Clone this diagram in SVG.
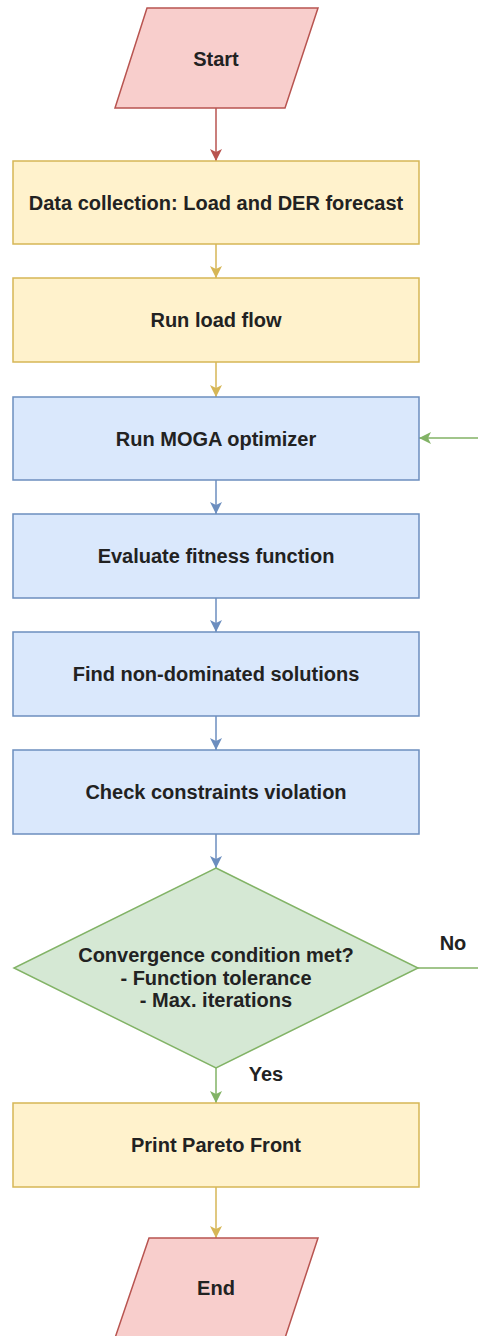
<svg xmlns="http://www.w3.org/2000/svg" width="478" height="1336" viewBox="0 0 478 1336">
<style>
text{font-family:"Liberation Sans",Arial,sans-serif;font-size:20px;font-weight:bold;fill:#222;text-anchor:middle;dominant-baseline:central}
.red{fill:#f8cecc;stroke:#b85450;stroke-width:1.5}
.yel{fill:#fff2cc;stroke:#d6b656;stroke-width:1.5}
.blu{fill:#dae8fc;stroke:#6c8ebf;stroke-width:1.5}
.grn{fill:#d5e8d4;stroke:#82b366;stroke-width:1.5}
.c{fill:none;stroke-width:1.5}
</style>
<defs>
<marker id="aR" markerWidth="14" markerHeight="14" refX="12" refY="6" orient="auto" markerUnits="userSpaceOnUse"><path d="M0,0 L12,6 L0,12 L3,6 Z" fill="#b85450"/></marker>
<marker id="aY" markerWidth="14" markerHeight="14" refX="12" refY="6" orient="auto" markerUnits="userSpaceOnUse"><path d="M0,0 L12,6 L0,12 L3,6 Z" fill="#d6b656"/></marker>
<marker id="aB" markerWidth="14" markerHeight="14" refX="12" refY="6" orient="auto" markerUnits="userSpaceOnUse"><path d="M0,0 L12,6 L0,12 L3,6 Z" fill="#6c8ebf"/></marker>
<marker id="aG" markerWidth="14" markerHeight="14" refX="12" refY="6" orient="auto" markerUnits="userSpaceOnUse"><path d="M0,0 L12,6 L0,12 L3,6 Z" fill="#82b366"/></marker>
</defs>
<rect width="478" height="1336" fill="#ffffff"/>
<g id="connectors">
<path class="c" stroke="#b85450" marker-end="url(#aR)" d="M216,108 V161"/>
<path class="c" stroke="#d6b656" marker-end="url(#aY)" d="M216,244 V278"/>
<path class="c" stroke="#d6b656" marker-end="url(#aY)" d="M216,362 V397"/>
<path class="c" stroke="#6c8ebf" marker-end="url(#aB)" d="M216,480 V514"/>
<path class="c" stroke="#6c8ebf" marker-end="url(#aB)" d="M216,598 V632"/>
<path class="c" stroke="#6c8ebf" marker-end="url(#aB)" d="M216,716 V750"/>
<path class="c" stroke="#6c8ebf" marker-end="url(#aB)" d="M216,834 V868"/>
<path class="c" stroke="#82b366" marker-end="url(#aG)" d="M216,1068 V1103"/>
<path class="c" stroke="#d6b656" marker-end="url(#aY)" d="M216,1187 V1238"/>
<path class="c" stroke="#82b366" marker-end="url(#aG)" d="M418,968 H490 V438 H419"/>
<text x="453" y="943">No</text>
<text x="266" y="1074">Yes</text>
</g>
<g id="start"><polygon class="red" points="147,8 318,8 285,108 115,108"/><text x="216" y="59">Start</text></g>
<g id="data"><rect class="yel" x="13" y="161" width="406" height="83"/><text x="216" y="203">Data collection: Load and DER forecast</text></g>
<g id="loadflow"><rect class="yel" x="13" y="278" width="406" height="84"/><text x="216" y="320">Run load flow</text></g>
<g id="moga"><rect class="blu" x="13" y="397" width="406" height="83"/><text x="216" y="439">Run MOGA optimizer</text></g>
<g id="fitness"><rect class="blu" x="13" y="514" width="406" height="84"/><text x="216" y="556">Evaluate fitness function</text></g>
<g id="nondom"><rect class="blu" x="13" y="632" width="406" height="84"/><text x="216" y="674">Find non-dominated solutions</text></g>
<g id="constraints"><rect class="blu" x="13" y="750" width="406" height="84"/><text x="216" y="792">Check constraints violation</text></g>
<g id="convergence"><polygon class="grn" points="216,868 418,968 216,1068 14,968"/>
<text x="216" y="955">Convergence condition met?</text>
<text x="216" y="978">- Function tolerance</text>
<text x="216" y="1000">- Max. iterations</text></g>
<g id="pareto"><rect class="yel" x="13" y="1103" width="406" height="84"/><text x="216" y="1145">Print Pareto Front</text></g>
<g id="end"><polygon class="red" points="149,1238 318,1238 285,1338 115,1338"/><text x="216" y="1288">End</text></g>
</svg>
